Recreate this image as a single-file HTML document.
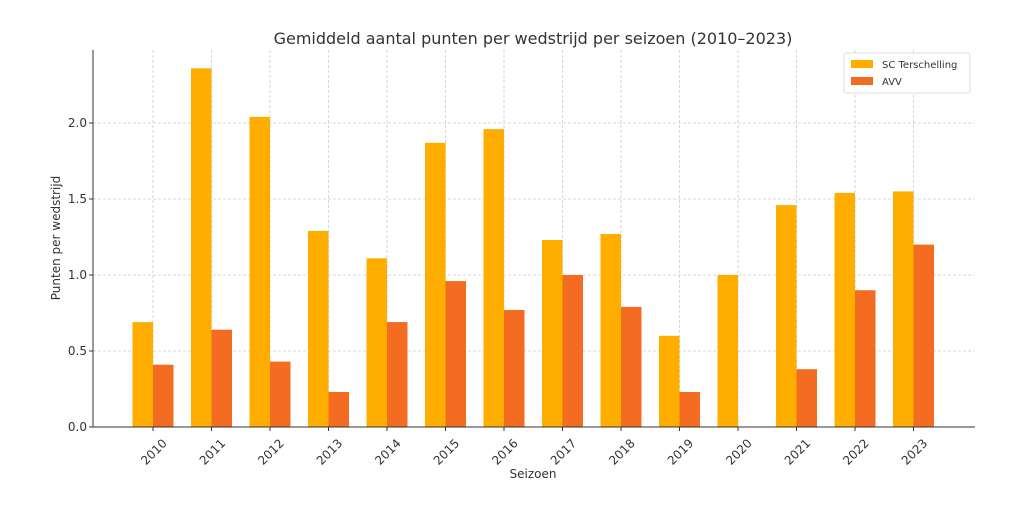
<!DOCTYPE html>
<html><head><meta charset="utf-8"><style>body{margin:0;background:#fff}svg{display:block}</style></head><body>
<svg width="1024" height="507" xmlns="http://www.w3.org/2000/svg" font-family="DejaVu Sans, Liberation Sans, sans-serif">
<rect width="1024" height="507" fill="#fff"/>
<text x="533" y="44" text-anchor="middle" font-size="16" fill="#333">Gemiddeld aantal punten per wedstrijd per seizoen (2010–2023)</text>
<g stroke="#ccc" stroke-width="0.8" stroke-dasharray="3,2">
<line x1="93" x2="975" y1="351" y2="351"/><line x1="93" x2="975" y1="275" y2="275"/><line x1="93" x2="975" y1="199" y2="199"/><line x1="93" x2="975" y1="123" y2="123"/>
<line x1="153" x2="153" y1="50" y2="427"/><line x1="211.5" x2="211.5" y1="50" y2="427"/><line x1="270" x2="270" y1="50" y2="427"/><line x1="328.5" x2="328.5" y1="50" y2="427"/><line x1="387" x2="387" y1="50" y2="427"/><line x1="445.5" x2="445.5" y1="50" y2="427"/><line x1="504" x2="504" y1="50" y2="427"/><line x1="562.5" x2="562.5" y1="50" y2="427"/><line x1="621" x2="621" y1="50" y2="427"/><line x1="679.5" x2="679.5" y1="50" y2="427"/><line x1="738" x2="738" y1="50" y2="427"/><line x1="796.5" x2="796.5" y1="50" y2="427"/><line x1="855" x2="855" y1="50" y2="427"/><line x1="913.5" x2="913.5" y1="50" y2="427"/>
</g>
<g fill="#FFAE00">
<rect x="132.5" y="322.1" width="20.5" height="104.9"/>
<rect x="191" y="68.3" width="20.5" height="358.7"/>
<rect x="249.5" y="116.9" width="20.5" height="310.1"/>
<rect x="308" y="230.9" width="20.5" height="196.1"/>
<rect x="366.5" y="258.3" width="20.5" height="168.7"/>
<rect x="425" y="142.8" width="20.5" height="284.2"/>
<rect x="483.5" y="129.1" width="20.5" height="297.9"/>
<rect x="542" y="240" width="20.5" height="187"/>
<rect x="600.5" y="234" width="20.5" height="193"/>
<rect x="659" y="335.8" width="20.5" height="91.2"/>
<rect x="717.5" y="275" width="20.5" height="152"/>
<rect x="776" y="205.1" width="20.5" height="221.9"/>
<rect x="834.5" y="192.9" width="20.5" height="234.1"/>
<rect x="893" y="191.4" width="20.5" height="235.6"/>
</g>
<g fill="#F36C21">
<rect x="153" y="364.7" width="20.5" height="62.3"/>
<rect x="211.5" y="329.7" width="20.5" height="97.3"/>
<rect x="270" y="361.6" width="20.5" height="65.4"/>
<rect x="328.5" y="392" width="20.5" height="35"/>
<rect x="387" y="322.1" width="20.5" height="104.9"/>
<rect x="445.5" y="281.1" width="20.5" height="145.9"/>
<rect x="504" y="310" width="20.5" height="117"/>
<rect x="562.5" y="275" width="20.5" height="152"/>
<rect x="621" y="306.9" width="20.5" height="120.1"/>
<rect x="679.5" y="392" width="20.5" height="35"/>
<rect x="796.5" y="369.2" width="20.5" height="57.8"/>
<rect x="855" y="290.2" width="20.5" height="136.8"/>
<rect x="913.5" y="244.6" width="20.5" height="182.4"/>
</g>
<line x1="93" y1="50" x2="93" y2="427" stroke="#333" stroke-width="1"/>
<line x1="93" y1="427" x2="975" y2="427" stroke="#333" stroke-width="1"/>
<g font-size="12" fill="#333" text-anchor="end">
<text x="87" y="431">0.0</text><text x="87" y="355">0.5</text><text x="87" y="279">1.0</text><text x="87" y="203">1.5</text><text x="87" y="127">2.0</text>
</g>
<g stroke="#333"><line x1="89" x2="93" y1="427" y2="427"/><line x1="89" x2="93" y1="351" y2="351"/><line x1="89" x2="93" y1="275" y2="275"/><line x1="89" x2="93" y1="199" y2="199"/><line x1="89" x2="93" y1="123" y2="123"/>
<line x1="153" x2="153" y1="427" y2="431"/><line x1="211.5" x2="211.5" y1="427" y2="431"/><line x1="270" x2="270" y1="427" y2="431"/><line x1="328.5" x2="328.5" y1="427" y2="431"/><line x1="387" x2="387" y1="427" y2="431"/><line x1="445.5" x2="445.5" y1="427" y2="431"/><line x1="504" x2="504" y1="427" y2="431"/><line x1="562.5" x2="562.5" y1="427" y2="431"/><line x1="621" x2="621" y1="427" y2="431"/><line x1="679.5" x2="679.5" y1="427" y2="431"/><line x1="738" x2="738" y1="427" y2="431"/><line x1="796.5" x2="796.5" y1="427" y2="431"/><line x1="855" x2="855" y1="427" y2="431"/><line x1="913.5" x2="913.5" y1="427" y2="431"/></g>
<text transform="translate(60,238) rotate(-90)" text-anchor="middle" font-size="12" fill="#333">Punten per wedstrijd</text>
<text x="533" y="478" text-anchor="middle" font-size="12" fill="#333">Seizoen</text>
<g font-size="12" fill="#333" text-anchor="middle">
<text transform="translate(154,452) rotate(-45)" dy="4">2010</text>
<text transform="translate(212.5,452) rotate(-45)" dy="4">2011</text>
<text transform="translate(271,452) rotate(-45)" dy="4">2012</text>
<text transform="translate(329.5,452) rotate(-45)" dy="4">2013</text>
<text transform="translate(388,452) rotate(-45)" dy="4">2014</text>
<text transform="translate(446.5,452) rotate(-45)" dy="4">2015</text>
<text transform="translate(505,452) rotate(-45)" dy="4">2016</text>
<text transform="translate(563.5,452) rotate(-45)" dy="4">2017</text>
<text transform="translate(622,452) rotate(-45)" dy="4">2018</text>
<text transform="translate(680.5,452) rotate(-45)" dy="4">2019</text>
<text transform="translate(739,452) rotate(-45)" dy="4">2020</text>
<text transform="translate(797.5,452) rotate(-45)" dy="4">2021</text>
<text transform="translate(856,452) rotate(-45)" dy="4">2022</text>
<text transform="translate(914.5,452) rotate(-45)" dy="4">2023</text>
</g>
<rect x="844" y="53" width="126" height="40" fill="#fff" stroke="#ddd" rx="2"/>
<rect x="851" y="60" width="22" height="8" fill="#FFAE00"/>
<text x="882" y="68" font-size="10" fill="#333">SC Terschelling</text>
<rect x="851" y="77" width="22" height="8" fill="#F36C21"/>
<text x="882" y="85" font-size="10" fill="#333">AVV</text>
</svg>
</body></html>
